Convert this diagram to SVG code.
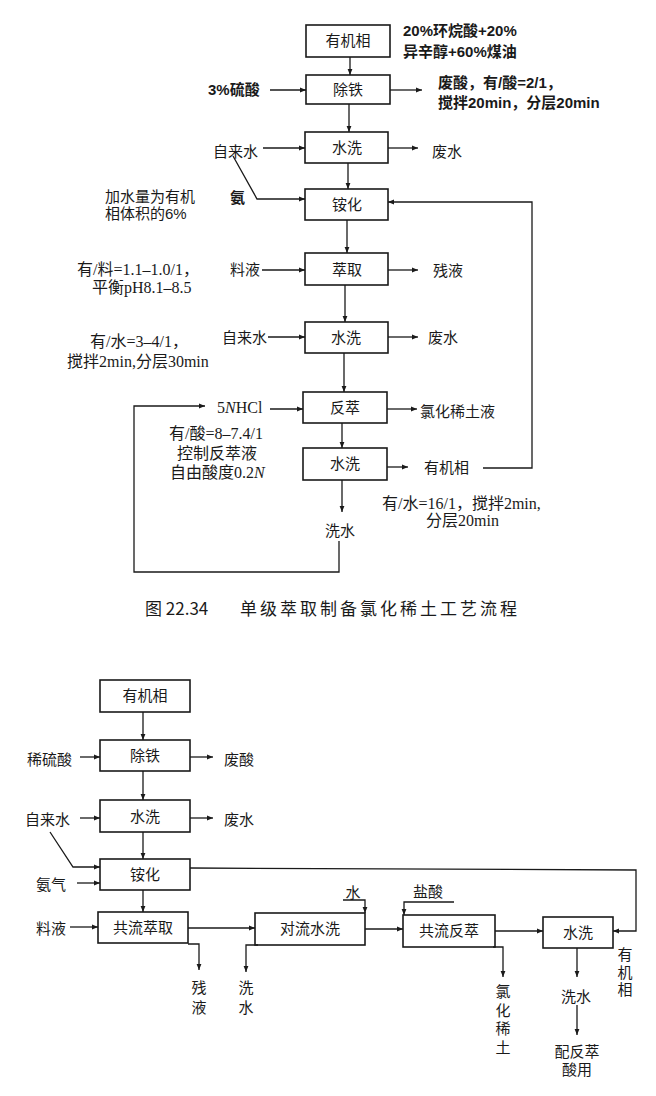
<svg xmlns="http://www.w3.org/2000/svg" width="656" height="1096" viewBox="0 0 656 1096">
<defs>
<marker id="ah" viewBox="0 0 10 10" refX="10" refY="5" markerWidth="8" markerHeight="6" markerUnits="userSpaceOnUse" orient="auto"><path d="M0,1 L10,5 L0,9 Z" fill="#1a1a1a"/></marker>
<style>
rect{fill:#fff;stroke:#1a1a1a;stroke-width:1.6}
.c line,.c polyline{fill:none;stroke:#1a1a1a;stroke-width:1.3}
.a{marker-end:url(#ah)}
text{font-family:"Liberation Serif","Noto Sans CJK SC",serif;font-size:15px;fill:#1a1a1a}
.b{text-anchor:middle;font-family:"Liberation Sans","Noto Sans CJK SC",sans-serif;font-size:15px}
.l{font-family:"Liberation Sans","Noto Sans CJK SC",sans-serif;font-size:15px}
.h{font-family:"Liberation Sans","Noto Sans CJK SC",sans-serif;font-weight:bold;font-size:15px}
.s{font-family:"Liberation Serif","Noto Sans CJK SC",serif;font-size:16px}
</style>
</defs>
<rect x="0" y="0" width="656" height="1096" style="fill:#fff;stroke:none"/>

<!-- top diagram nodes -->
<g id="t1"><rect x="306" y="25" width="84" height="32"/><text class="b" x="348" y="46">有机相</text></g>
<g id="t2"><rect x="306" y="75" width="84" height="29"/><text class="b" x="348" y="95">除铁</text></g>
<g id="t3"><rect x="305" y="132" width="83" height="31"/><text class="b" x="347" y="153">水洗</text></g>
<g id="t4"><rect x="305" y="189" width="83" height="31"/><text class="b" x="347" y="210">铵化</text></g>
<g id="t5"><rect x="305" y="253" width="83" height="32"/><text class="b" x="347" y="275">萃取</text></g>
<g id="t6"><rect x="305" y="322" width="83" height="31"/><text class="b" x="346" y="343">水洗</text></g>
<g id="t7"><rect x="303" y="392" width="84" height="31"/><text class="b" x="345" y="413">反萃</text></g>
<g id="t8"><rect x="303" y="448" width="84" height="32"/><text class="b" x="345" y="469">水洗</text></g>

<!-- top labels -->
<g id="tl">
<text class="h" x="403" y="36">20%环烷酸+20%<tspan x="403" dy="21">异辛醇+60%煤油</tspan></text>
<text class="h" x="208" y="95">3%硫酸</text>
<text class="h" x="438" y="88">废酸，有/酸=2/1，<tspan x="438" dy="20">搅拌20min，分层20min</tspan></text>
<text class="l" x="213" y="157">自来水</text>
<text class="l" x="432" y="157">废水</text>
<text class="h" x="230" y="203">氨</text>
<text class="l" x="105" y="202">加水量为有机<tspan x="105" dy="17">相体积的6%</tspan></text>
<text class="l" x="230" y="275">料液</text>
<text class="l" x="433" y="276">残液</text>
<text class="s" x="77" y="275">有/料=1.1–1.0/1，<tspan x="92" dy="18">平衡pH8.1–8.5</tspan></text>
<text class="l" x="222" y="343">自来水</text>
<text class="l" x="428" y="343">废水</text>
<text class="s" x="90" y="347">有/水=3–4/1，<tspan x="67" dy="20">搅拌2min,分层30min</tspan></text>
<text class="s" x="217" y="413">5<tspan font-style="italic">N</tspan>HCl</text>
<text class="l" x="420" y="417">氯化稀土液</text>
<text class="s" x="169" y="439">有/酸=8–7.4/1<tspan x="177" dy="20">控制反萃液</tspan><tspan x="170" dy="19">自由酸度0.2</tspan><tspan font-style="italic">N</tspan></text>
<text class="l" x="424" y="473">有机相</text>
<text class="s" x="382" y="509">有/水=16/1，搅拌2min,<tspan x="426" dy="17">分层20min</tspan></text>
<text class="l" x="325" y="536">洗水</text>
</g>

<!-- top connectors -->
<g class="c" id="tc">
<line class="a" x1="350" y1="57" x2="350" y2="75"/>
<line class="a" x1="349" y1="104" x2="349" y2="132"/>
<line class="a" x1="348" y1="163" x2="348" y2="189"/>
<line class="a" x1="347" y1="220" x2="347" y2="253"/>
<line class="a" x1="345" y1="285" x2="345" y2="322"/>
<line class="a" x1="344" y1="353" x2="344" y2="392"/>
<line class="a" x1="342" y1="423" x2="342" y2="448"/>
<line class="a" x1="342" y1="480" x2="342" y2="512"/>
<line class="a" x1="270" y1="90" x2="306" y2="90"/>
<line class="a" x1="390" y1="90" x2="422" y2="90"/>
<line class="a" x1="263" y1="148" x2="305" y2="148"/>
<line class="a" x1="388" y1="148" x2="418" y2="148"/>
<polyline class="a" points="233,156 257,199 305,199"/>
<polyline class="a" points="483,468 532,468 532,202 388,202"/>
<line class="a" x1="262" y1="270" x2="305" y2="270"/>
<line class="a" x1="388" y1="270" x2="418" y2="270"/>
<line class="a" x1="268" y1="337" x2="305" y2="337"/>
<line class="a" x1="388" y1="337" x2="418" y2="337"/>
<line class="a" x1="270" y1="409" x2="303" y2="409"/>
<line class="a" x1="387" y1="409" x2="417" y2="409"/>
<line class="a" x1="387" y1="467" x2="408" y2="467"/>
<polyline class="a" points="339,541 339,572 134,572 134,406 205,406"/>
</g>

<!-- caption -->
<g id="cap">
<text x="145" y="615" style="font-family:'Noto Sans CJK SC',sans-serif;font-size:17px">图 22.34</text>
<text x="240" y="615" style="font-family:'Noto Sans CJK SC',sans-serif;font-size:17px;letter-spacing:3px">单级萃取制备氯化稀土工艺流程</text>
</g>

<!-- bottom diagram nodes -->
<g id="b1"><rect x="100" y="680" width="90" height="32"/><text class="b" x="145" y="701">有机相</text></g>
<g id="b2"><rect x="100" y="740" width="90" height="31"/><text class="b" x="145" y="761">除铁</text></g>
<g id="b3"><rect x="100" y="800" width="90" height="32"/><text class="b" x="145" y="822">水洗</text></g>
<g id="b4"><rect x="100" y="859" width="90" height="31"/><text class="b" x="145" y="880">铵化</text></g>
<g id="b5"><rect x="98" y="912" width="90" height="31"/><text class="b" x="143" y="933">共流萃取</text></g>
<g id="b6"><rect x="255" y="913" width="110" height="32"/><text class="b" x="310" y="934">对流水洗</text></g>
<g id="b7"><rect x="403" y="915" width="92" height="32"/><text class="b" x="449" y="936">共流反萃</text></g>
<g id="b8"><rect x="543" y="917" width="70" height="31"/><text class="b" x="578" y="938">水洗</text></g>

<!-- bottom labels -->
<g id="bl">
<text class="l" x="27" y="765">稀硫酸</text>
<text class="l" x="224" y="765">废酸</text>
<text class="l" x="25" y="825">自来水</text>
<text class="l" x="224" y="825">废水</text>
<text class="l" x="36" y="890">氨气</text>
<text class="l" x="36" y="934">料液</text>
<text class="b" x="199" y="993">残<tspan x="199" dy="20">液</tspan></text>
<text class="b" x="246" y="993">洗<tspan x="246" dy="20">水</tspan></text>
<text class="b" x="353" y="898">水</text>
<text class="b" x="428" y="897">盐酸</text>
<text class="b" x="503" y="997">氯<tspan x="503" dy="18.7">化</tspan><tspan x="503" dy="18.7">稀</tspan><tspan x="503" dy="18.7">土</tspan></text>
<text class="b" x="576" y="1002">洗水</text>
<text class="b" x="577" y="1057">配反萃<tspan x="577" dy="18">酸用</tspan></text>
<text class="b" x="625" y="960">有<tspan x="625" dy="18">机</tspan><tspan x="625" dy="17">相</tspan></text>
</g>

<!-- bottom connectors -->
<g class="c" id="bc">
<line class="a" x1="143" y1="712" x2="143" y2="740"/>
<line class="a" x1="143" y1="771" x2="143" y2="800"/>
<line class="a" x1="143" y1="832" x2="143" y2="859"/>
<line class="a" x1="143" y1="890" x2="143" y2="912"/>
<line class="a" x1="80" y1="757" x2="100" y2="757"/>
<line class="a" x1="190" y1="757" x2="213" y2="757"/>
<line class="a" x1="80" y1="818" x2="100" y2="818"/>
<line class="a" x1="190" y1="818" x2="213" y2="818"/>
<polyline class="a" points="50,832 73,867 100,867"/>
<line class="a" x1="77" y1="883" x2="100" y2="883"/>
<polyline class="a" points="190,868 636,870 636,931 613,931"/>
<line class="a" x1="70" y1="927" x2="98" y2="927"/>
<line class="a" x1="188" y1="928" x2="255" y2="928"/>
<polyline class="a" points="188,944 199,944 199,970"/>
<polyline class="a" points="258,945 246,945 246,972"/>
<polyline class="a" points="343,900 365,900 365,913"/>
<line class="a" x1="365" y1="929" x2="403" y2="929"/>
<polyline class="a" points="454,902 404,902 404,915"/>
<line class="a" x1="495" y1="931" x2="543" y2="931"/>
<polyline class="a" points="493,947 503,947 503,977"/>
<line class="a" x1="577" y1="948" x2="577" y2="977"/>
<line class="a" x1="577" y1="1005" x2="577" y2="1035"/>
</g>
</svg>
